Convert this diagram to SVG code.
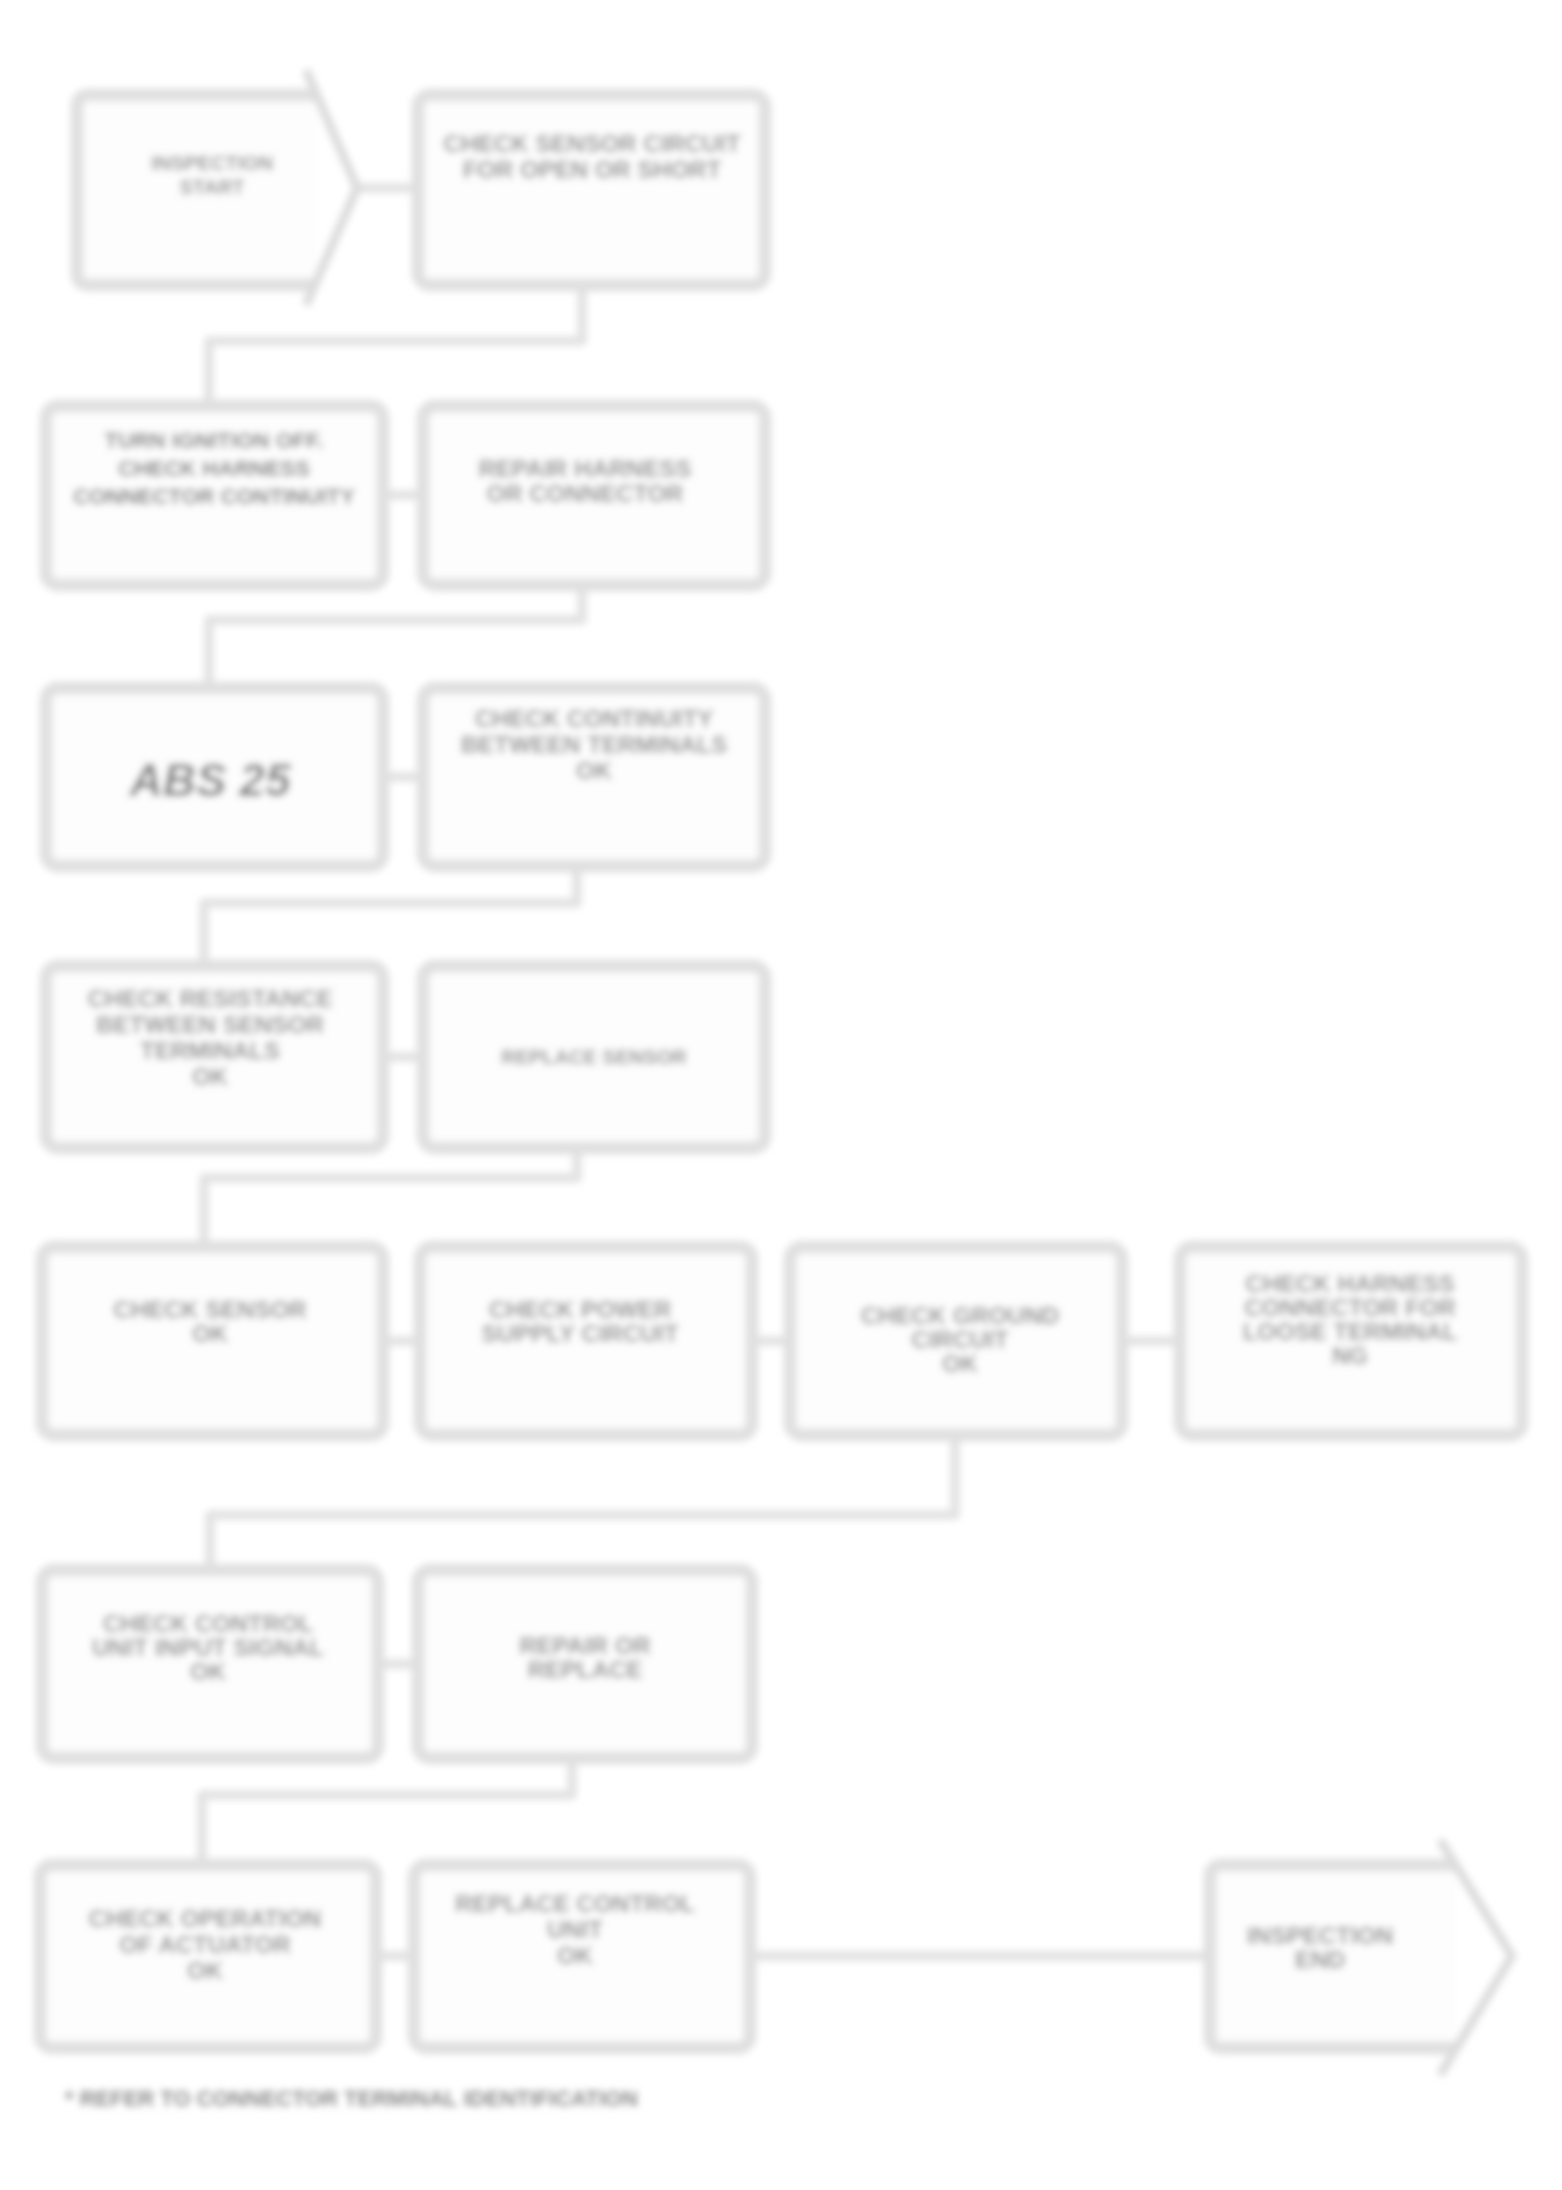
<svg xmlns="http://www.w3.org/2000/svg" width="1562" height="2190" viewBox="0 0 1562 2190">
<defs>
<filter id="soft" x="-5%" y="-5%" width="110%" height="110%"><feGaussianBlur stdDeviation="3.5"/></filter>
<style>
.box{fill:#fdfdfd;stroke:#e0e0e0;stroke-width:13;}
.edge{fill:none;stroke:#e3e3e3;stroke-width:10;stroke-linejoin:round;}
.t{font-family:"Liberation Sans",Arial,sans-serif;font-weight:bold;fill:#8e8e8e;text-anchor:middle;}
.s{font-size:20px;}
.m{font-size:24px;}
.c{font-size:22px;}
.l{font-size:46px;font-style:italic;}
.foot{font-family:"Liberation Sans",Arial,sans-serif;font-weight:bold;font-size:22px;fill:#8a8a8a;}
</style>
</defs>
<rect width="1562" height="2190" fill="#ffffff"/>
<g filter="url(#soft)">
<g id="connectors">
<path class="edge" d="M357,188 H418"/>
<path class="edge" d="M582,285 V341 H209 V406"/>
<path class="edge" d="M383,495 H423"/>
<path class="edge" d="M582,585 V620 H209 V688"/>
<path class="edge" d="M383,777 H423"/>
<path class="edge" d="M577,866 V903 H204 V966"/>
<path class="edge" d="M383,1057 H423"/>
<path class="edge" d="M577,1148 V1178 H204 V1247"/>
<path class="edge" d="M383,1341 H420"/>
<path class="edge" d="M752,1341 H790"/>
<path class="edge" d="M1122,1341 H1180"/>
<path class="edge" d="M955,1435 V1515 H210 V1570"/>
<path class="edge" d="M378,1664 H418"/>
<path class="edge" d="M572,1758 V1795 H202 V1865"/>
<path class="edge" d="M376,1956 H414"/>
<path class="edge" d="M750,1956 H1210"/>
</g>
<g id="nodeA">
<path class="box" d="M317,95 H89 Q77,95 77,107 V273 Q77,285 89,285 H317"/>
<path class="edge" d="M306,70 L357,188 L306,305" style="stroke:#dcdcdc;stroke-width:9"/>
<text class="t s" x="212" y="170">INSPECTION</text>
<text class="t s" x="212" y="194">START</text>
</g>
<g id="nodeB">
<rect class="box" x="418" y="95" width="347" height="190" rx="12"/>
<text class="t m" x="592" y="152">CHECK SENSOR CIRCUIT</text>
<text class="t m" x="592" y="178">FOR OPEN OR SHORT</text>
</g>
<g id="nodeC">
<rect class="box" x="46" y="406" width="337" height="179" rx="12"/>
<text class="t c" x="214" y="448" style="fill:#777">TURN IGNITION OFF.</text>
<text class="t c" x="214" y="476" style="fill:#777">CHECK HARNESS</text>
<text class="t c" x="214" y="504" style="fill:#777">CONNECTOR CONTINUITY</text>
</g>
<g id="nodeD">
<rect class="box" x="423" y="406" width="342" height="179" rx="12"/>
<text class="t m" x="585" y="477">REPAIR HARNESS</text>
<text class="t m" x="585" y="502">OR CONNECTOR</text>
</g>
<g id="nodeE">
<rect class="box" x="46" y="688" width="337" height="178" rx="12"/>
<text class="t l" x="210" y="796" style="fill:#7a7a7a">ABS 25</text>
</g>
<g id="nodeF">
<rect class="box" x="423" y="688" width="342" height="178" rx="12"/>
<text class="t m" x="594" y="727">CHECK CONTINUITY</text>
<text class="t m" x="594" y="753">BETWEEN TERMINALS</text>
<text class="t m" x="594" y="779">OK</text>
</g>
<g id="nodeG">
<rect class="box" x="46" y="966" width="337" height="182" rx="12"/>
<text class="t m" x="210" y="1007">CHECK RESISTANCE</text>
<text class="t m" x="210" y="1033">BETWEEN SENSOR</text>
<text class="t m" x="210" y="1059">TERMINALS</text>
<text class="t m" x="210" y="1085">OK</text>
</g>
<g id="nodeH">
<rect class="box" x="423" y="966" width="342" height="182" rx="12"/>
<text class="t s" x="594" y="1064">REPLACE SENSOR</text>
</g>
<g id="nodeI">
<rect class="box" x="42" y="1247" width="341" height="188" rx="12"/>
<text class="t m" x="210" y="1318">CHECK SENSOR</text>
<text class="t m" x="210" y="1342">OK</text>
</g>
<g id="nodeJ">
<rect class="box" x="420" y="1247" width="332" height="188" rx="12"/>
<text class="t m" x="580" y="1318">CHECK POWER</text>
<text class="t m" x="580" y="1342">SUPPLY CIRCUIT</text>
</g>
<g id="nodeK">
<rect class="box" x="790" y="1247" width="332" height="188" rx="12"/>
<text class="t m" x="960" y="1324">CHECK GROUND</text>
<text class="t m" x="960" y="1348">CIRCUIT</text>
<text class="t m" x="960" y="1372">OK</text>
</g>
<g id="nodeL">
<rect class="box" x="1180" y="1247" width="342" height="188" rx="12"/>
<text class="t m" x="1350" y="1292">CHECK HARNESS</text>
<text class="t m" x="1350" y="1316">CONNECTOR FOR</text>
<text class="t m" x="1350" y="1340">LOOSE TERMINAL</text>
<text class="t m" x="1350" y="1364">NG</text>
</g>
<g id="nodeM">
<rect class="box" x="42" y="1570" width="336" height="188" rx="12"/>
<text class="t m" x="208" y="1632">CHECK CONTROL</text>
<text class="t m" x="208" y="1656">UNIT INPUT SIGNAL</text>
<text class="t m" x="208" y="1680">OK</text>
</g>
<g id="nodeN">
<rect class="box" x="418" y="1570" width="334" height="188" rx="12"/>
<text class="t m" x="585" y="1654">REPAIR OR</text>
<text class="t m" x="585" y="1678">REPLACE</text>
</g>
<g id="nodeO">
<rect class="box" x="40" y="1865" width="336" height="183" rx="12"/>
<text class="t m" x="205" y="1927">CHECK OPERATION</text>
<text class="t m" x="205" y="1953">OF ACTUATOR</text>
<text class="t m" x="205" y="1979">OK</text>
</g>
<g id="nodeP">
<rect class="box" x="414" y="1865" width="336" height="183" rx="12"/>
<text class="t m" x="575" y="1912">REPLACE CONTROL</text>
<text class="t m" x="575" y="1938">UNIT</text>
<text class="t m" x="575" y="1964">OK</text>
</g>
<g id="nodeQ">
<path class="box" d="M1456,1865 H1222 Q1210,1865 1210,1877 V2036 Q1210,2048 1222,2048 H1456"/>
<path class="edge" d="M1440,1840 L1512,1956 L1440,2075" style="stroke:#dcdcdc;stroke-width:9"/>
<text class="t m" x="1320" y="1944">INSPECTION</text>
<text class="t m" x="1320" y="1968">END</text>
</g>
<text class="foot" x="65" y="2106">* REFER TO CONNECTOR TERMINAL IDENTIFICATION</text>
</g>
</svg>
